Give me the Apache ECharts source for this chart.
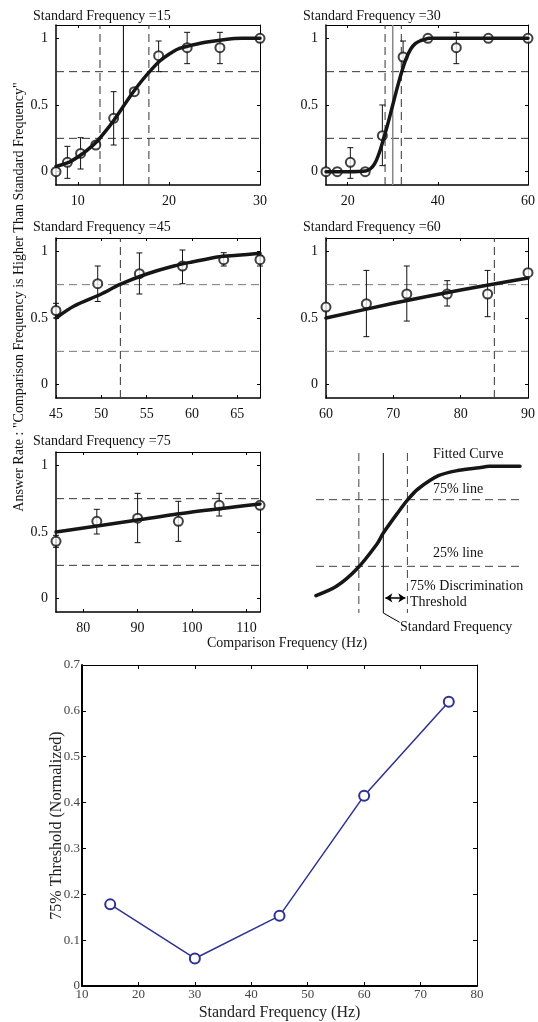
<!DOCTYPE html>
<html><head><meta charset="utf-8">
<script src="https://cdn.jsdelivr.net/npm/echarts@6/dist/echarts.min.js"></script>
<style>html,body{margin:0;padding:0;background:#fff}#c{width:538px;height:1022px}</style>
</head><body><div id="c"></div>
<script>
// ---------------- DATA ----------------
const titles = ['Standard Frequency =15','Standard Frequency =30','Standard Frequency =45','Standard Frequency =60','Standard Frequency =75'];
const levels = [0.25, 0.75];
const yTicks = [0, 0.5, 1];

const p15_x  = [7.6, 8.85, 10.3, 11.97, 13.93, 16.2, 18.87, 22.0, 25.6, 30];
const p15_y  = [0, 0.07, 0.137, 0.2, 0.40, 0.60, 0.87, 0.93, 0.93, 1];
const p15_lo = [null, -0.05, 0.02, null, 0.20, null, 0.75, 0.81, 0.81, null];
const p15_hi = [null, 0.19, 0.255, null, 0.60, null, 0.98, 1.045, 1.045, null];
const p15_fitX = [7.6, 9, 10, 11, 12, 13, 14, 15, 16, 17, 18, 19, 20, 21, 22, 24, 26, 28, 30];
const p15_fitY = [0.04, 0.07, 0.11, 0.16, 0.22, 0.30, 0.39, 0.49, 0.59, 0.68, 0.76, 0.83, 0.88, 0.92, 0.94, 0.97, 0.99, 1.0, 1.0];
const p15_thr = [12.43, 17.8];
const p15_std = 15;
const p15_xTicks = [10, 20, 30];

const p30_x  = [15.2, 17.7, 20.6, 23.9, 27.7, 32.3, 37.8, 44.1, 51.2, 60];
const p30_y  = [0, 0, 0.07, 0, 0.27, 0.86, 1, 0.93, 1, 1];
const p30_lo = [null, null, -0.05, null, 0.045, 0.75, null, 0.81, null, null];
const p30_hi = [null, null, 0.18, null, 0.50, 0.98, null, 1.045, null, null];
const p30_fitX = [15.2, 20, 24, 25, 26, 27, 28, 29, 30, 31, 32, 33, 34, 35, 36, 37, 38, 40, 50, 60];
const p30_fitY = [0, 0, 0.005, 0.02, 0.06, 0.14, 0.25, 0.37, 0.5, 0.63, 0.75, 0.85, 0.92, 0.96, 0.98, 0.99, 1, 1, 1, 1];
const p30_thr = [28.3, 31.9];
const p30_std = 30;
const p30_xTicks = [20, 40, 60];

const p45_x  = [45, 49.6, 54.2, 58.95, 63.5, 67.5];
const p45_y  = [0.556, 0.757, 0.832, 0.89, 0.937, 0.937];
const p45_lo = [0.50, 0.624, 0.68, 0.757, 0.89, 0.89];
const p45_hi = [0.61, 0.89, 0.988, 1.01, 0.99, 0.97];
const p45_fitX = [45, 47, 50, 52, 55, 58, 60, 63, 65, 67.5];
const p45_fitY = [0.5, 0.59, 0.68, 0.75, 0.83, 0.89, 0.92, 0.96, 0.97, 0.985];
const p45_thr = [52.1];
const p45_xTicks = [45, 50, 55, 60, 65];

const p60_x  = [60, 66, 72, 78, 84, 90];
const p60_y  = [0.582, 0.607, 0.68, 0.68, 0.68, 0.84];
const p60_lo = [null, 0.36, 0.477, 0.59, 0.51, null];
const p60_hi = [null, 0.857, 0.89, 0.78, 0.857, null];
const p60_fitX = [60, 70, 80, 90];
const p60_fitY = [0.5, 0.61, 0.71, 0.80];
const p60_thr = [85.0];
const p60_xTicks = [60, 70, 80, 90];

const p75_x  = [75, 82.5, 90, 97.5, 105, 112.5];
const p75_y  = [0.43, 0.58, 0.604, 0.58, 0.70, 0.70];
const p75_lo = [0.385, 0.485, 0.42, 0.43, 0.62, null];
const p75_hi = [0.475, 0.67, 0.79, 0.73, 0.79, null];
const p75_fitX = [75, 90, 100, 112.5];
const p75_fitY = [0.5, 0.59, 0.65, 0.71];
const p75_thr = [];
const p75_xTicks = [80, 90, 100, 110];

// schematic panel
const diag_fitX = [0, 1, 2, 3, 3.3, 4, 4.5, 5, 6, 7, 8, 8.5, 10];
const diag_fitY = [0.03, 0.1, 0.23, 0.42, 0.5, 0.65, 0.75, 0.83, 0.93, 0.97, 0.99, 1.0, 1.0];
const diag_thr = [2.1, 4.48];
const diag_std = 3.3;

// bottom chart
const std_freq = [15, 30, 45, 60, 75];
const thr_norm = [0.178, 0.060, 0.153, 0.415, 0.62];
const bot_xTicks = [10, 20, 30, 40, 50, 60, 70, 80];
const bot_yTicks = [0, 0.1, 0.2, 0.3, 0.4, 0.5, 0.6, 0.7];

// ---------------- BUILD ----------------
const SERIF = 'Liberation Serif';
const opt = {animation:false, backgroundColor:'#fff', grid:[], xAxis:[], yAxis:[], series:[], graphic:[]};

function zip(a, b){ return a.map((v,i)=>[v, b[i]]); }

function errRender(params, api){
  const x = api.value(0), lo = api.value(1), hi = api.value(2);
  const a = api.coord([x, lo]), b = api.coord([x, hi]);
  const w = 3, st = {stroke:'#111', lineWidth:1};
  return {type:'group', children:[
    {type:'line', shape:{x1:a[0],y1:a[1],x2:b[0],y2:b[1]}, style:st},
    {type:'line', shape:{x1:a[0]-w,y1:a[1],x2:a[0]+w,y2:a[1]}, style:st},
    {type:'line', shape:{x1:b[0]-w,y1:b[1],x2:b[0]+w,y2:b[1]}, style:st}
  ]};
}

function addAxes(box, xr, yr, xTicks, yTicks, o){
  const g = opt.grid.length;
  opt.grid.push({left:box[0], top:box[1], width:box[2], height:box[3]});
  const xi = opt.xAxis.length, yi = opt.yAxis.length;
  const lab = {fontFamily:SERIF, fontSize:o.fs, color:o.lc};
  const tick = (vals)=>({show:true, inside:true, length:o.tl, customValues:vals, lineStyle:{color:'#000', width:1}});
  opt.xAxis.push({gridIndex:g, type:'value', position:'bottom', min:xr[0], max:xr[1],
    axisLine:{onZero:false, lineStyle:{color:'#000', width:o.lw}}, axisTick:tick(xTicks),
    axisLabel:Object.assign({customValues:xTicks, margin:o.xm}, lab), splitLine:{show:false}});
  opt.xAxis.push({gridIndex:g, type:'value', position:'top', min:xr[0], max:xr[1],
    axisLine:{onZero:false, lineStyle:{color:'#000', width:1}}, axisTick:tick(xTicks),
    axisLabel:{show:false}, splitLine:{show:false}});
  opt.yAxis.push({gridIndex:g, type:'value', position:'left', min:yr[0], max:yr[1],
    axisLine:{onZero:false, lineStyle:{color:'#000', width:o.lw}}, axisTick:tick(yTicks),
    axisLabel:Object.assign({customValues:yTicks, margin:o.ym}, lab), splitLine:{show:false}});
  opt.yAxis.push({gridIndex:g, type:'value', position:'right', min:yr[0], max:yr[1],
    axisLine:{onZero:false, lineStyle:{color:'#000', width:1}}, axisTick:tick(yTicks),
    axisLabel:{show:false}, splitLine:{show:false}});
  return {xi, yi};
}

function refLine(ax, pts, style, z){
  opt.series.push({type:'line', xAxisIndex:ax.xi, yAxisIndex:ax.yi, data:pts, showSymbol:false, symbol:'none',
    silent:true, z:z||1, lineStyle:style});
}

function fitLine(ax, xs, ys){
  opt.series.push({type:'line', xAxisIndex:ax.xi, yAxisIndex:ax.yi, data:zip(xs, ys), smooth:0.3,
    showSymbol:false, symbol:'none', lineStyle:{color:'#161616', width:3.5, cap:'round', join:'round'}, z:4, silent:true});
}

const panelOpts = {fs:14, lc:'#111', tl:3, lw:1.5, xm:9, ym:8};
function panel(box, title, titlePos, xr, d){
  const ax = addAxes(box, xr, [-0.1, 1.1], d.xTicks, yTicks, panelOpts);
  const dash = {type:[8,5], color:d.dc, width:1};
  levels.forEach(l => refLine(ax, [[xr[0], l], [xr[1], l]], dash));
  d.thr.forEach(t => refLine(ax, [[t, -0.1], [t, 1.1]], {type:[8,5], color:'#333', width:1}));
  if (d.std != null) refLine(ax, [[d.std, -0.1], [d.std, 1.1]], {type:'solid', color:d.sc, width:d.sw});
  const err = [];
  d.x.forEach((v,i)=>{ if (d.lo[i] != null) err.push([v, d.lo[i], d.hi[i]]); });
  opt.series.push({type:'custom', xAxisIndex:ax.xi, yAxisIndex:ax.yi, renderItem:errRender, data:err, z:2, silent:true});
  opt.series.push({type:'scatter', xAxisIndex:ax.xi, yAxisIndex:ax.yi, data:zip(d.x, d.y), symbol:'emptyCircle',
    symbolSize:9, itemStyle:{color:'#111', borderWidth:1}, z:3, silent:true, clip:false});
  fitLine(ax, d.fitX, d.fitY);
  opt.graphic.push({type:'text', left:titlePos[0], top:titlePos[1], style:{text:title, font:'14px "'+SERIF+'"', fill:'#111'}});
}

panel([56,25,204,160], titles[0], [33,9], [7.6,30],
  {x:p15_x, y:p15_y, lo:p15_lo, hi:p15_hi, fitX:p15_fitX, fitY:p15_fitY, thr:p15_thr, std:p15_std, sc:'#000', sw:1, xTicks:p15_xTicks, dc:'#333'});
panel([326,25,204,160], titles[1], [303,9], [15.2,60],
  {x:p30_x, y:p30_y, lo:p30_lo, hi:p30_hi, fitX:p30_fitX, fitY:p30_fitY, thr:p30_thr, std:p30_std, sc:'#888', sw:1.5, xTicks:p30_xTicks, dc:'#333'});
panel([56,238,204,160], titles[2], [33,220], [45,67.5],
  {x:p45_x, y:p45_y, lo:p45_lo, hi:p45_hi, fitX:p45_fitX, fitY:p45_fitY, thr:p45_thr, std:null, xTicks:p45_xTicks, dc:'#777'});
panel([326,238,204,160], titles[3], [303,220], [60,90],
  {x:p60_x, y:p60_y, lo:p60_lo, hi:p60_hi, fitX:p60_fitX, fitY:p60_fitY, thr:p60_thr, std:null, xTicks:p60_xTicks, dc:'#777'});
panel([56,452,204,160], titles[4], [33,434], [75,112.5],
  {x:p75_x, y:p75_y, lo:p75_lo, hi:p75_hi, fitX:p75_fitX, fitY:p75_fitY, thr:p75_thr, std:null, xTicks:p75_xTicks, dc:'#333'});

// schematic
(function(){
  const g = opt.grid.length;
  opt.grid.push({left:316, top:453, width:204, height:180});
  const xi = opt.xAxis.length, yi = opt.yAxis.length;
  opt.xAxis.push({gridIndex:g, type:'value', min:0, max:10, show:false});
  opt.yAxis.push({gridIndex:g, type:'value', min:-0.25, max:1.1, show:false});
  const ax = {xi, yi};
  const dash = {type:[8,5], color:'#444', width:1};
  levels.forEach(l => refLine(ax, [[0, l], [10, l]], dash));
  diag_thr.forEach(t => refLine(ax, [[t, 1.1], [t, -0.1]], dash));
  refLine(ax, [[diag_std, 1.1], [diag_std, -0.1], [diag_std + 0.8, -0.17]], {type:'solid', color:'#000', width:1});
  fitLine(ax, diag_fitX, diag_fitY);
  opt.series.push({type:'lines', coordinateSystem:'cartesian2d', xAxisIndex:xi, yAxisIndex:yi, silent:true, z:5,
    symbol:['arrow','arrow'], symbolSize:7, lineStyle:{color:'#000', width:1.5, opacity:1},
    data:[{coords:[[diag_std + 0.1, 0.013], [diag_thr[1] - 0.1, 0.013]]}]});
  const f = '14px "'+SERIF+'"';
  opt.graphic.push(
    {type:'text', left:433, top:447, style:{text:'Fitted Curve', font:f, fill:'#111'}},
    {type:'text', left:433, top:482, style:{text:'75% line', font:f, fill:'#111'}},
    {type:'text', left:433, top:546, style:{text:'25% line', font:f, fill:'#111'}},
    {type:'text', left:410, top:579, style:{text:'75% Discrimination', font:f, fill:'#111'}},
    {type:'text', left:410, top:595, style:{text:'Threshold', font:f, fill:'#111'}},
    {type:'text', left:400, top:620, style:{text:'Standard Frequency', font:f, fill:'#111'}}
  );
})();

// shared labels for the panels
opt.graphic.push(
  {type:'text', x:19, y:297, rotation:Math.PI/2,
    style:{text:'Answer Rate : "Comparison Frequency is Higher Than Standard Frequency"', font:'14px "'+SERIF+'"', fill:'#111', align:'center', verticalAlign:'middle'}},
  {type:'text', x:287, y:643,
    style:{text:'Comparison Frequency (Hz)', font:'14px "'+SERIF+'"', fill:'#111', align:'center', verticalAlign:'middle'}}
);

// bottom chart
(function(){
  const ax = addAxes([82,665,395,321], [10,80], [0,0.7], bot_xTicks, bot_yTicks,
    {fs:13, lc:'#444', tl:4, lw:2, xm:2, ym:2});
  Object.assign(opt.xAxis[ax.xi], {name:'Standard Frequency (Hz)', nameLocation:'middle', nameGap:19, nameMoveOverlap:false,
    nameTextStyle:{fontFamily:SERIF, fontSize:16, color:'#222', verticalAlign:'top'}});
  Object.assign(opt.yAxis[ax.yi], {name:'75% Threshold (Normalized)', nameLocation:'middle', nameGap:17, nameMoveOverlap:false,
    nameTextStyle:{fontFamily:SERIF, fontSize:16, color:'#222'}});
  opt.series.push({type:'line', xAxisIndex:ax.xi, yAxisIndex:ax.yi, data:zip(std_freq, thr_norm),
    symbol:'emptyCircle', symbolSize:10, showSymbol:true, lineStyle:{color:'#2E3192', width:1.5},
    itemStyle:{color:'#2E3192', borderWidth:1.8}, z:4, silent:true});
})();

const chart = echarts.init(document.getElementById('c'), null, {renderer:'canvas'});
chart.setOption(opt);
</script></body></html>
